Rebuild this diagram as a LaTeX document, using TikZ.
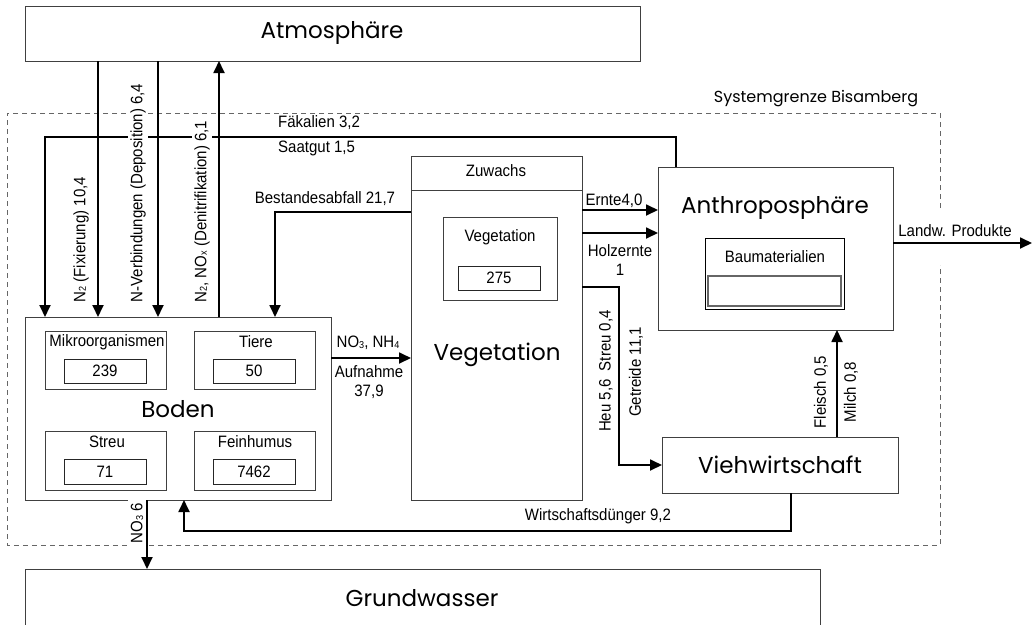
\documentclass[tikz,border=0pt]{standalone}
\usepackage{fontspec}
\usetikzlibrary{arrows.meta,fit}
\newfontfamily\cnd[FakeStretch=0.91]{Liberation Sans}
\newfontfamily\geo{Poppins}
\newcommand\lo[1]{\raisebox{-0.6pt}{\fontsize{10}{10}\selectfont #1}}
\begin{document}
\begin{tikzpicture}[x=1pt,y=-1pt,
 box/.style={draw=black!75,line width=1pt,inner sep=0pt,outer sep=0pt},
 valbox/.style={draw=black!85,line width=0.9pt,inner sep=0pt,outer sep=0pt},
 flow/.style={draw=black,line width=1.8pt,-{Triangle[length=12pt,width=11pt]}},
 flowline/.style={draw=black,line width=1.8pt},
 lbl/.style={font=\cnd\fontsize{16.5}{19.5}\selectfont,inner sep=1pt},
 rlbl/.style={lbl,rotate=90,fill=white,inner sep=2.5pt},
 big/.style={font=\geo\fontsize{23}{26}\selectfont,inner sep=0pt},
 bound/.style={draw=black!60,line width=0.9pt,dash pattern=on 5pt off 4pt}]
\useasboundingbox (0,0) rectangle (1032,624);

% system boundary
\draw[bound] (940,208) -- (940,113) -- (7,113) -- (7,545) -- (940,545) -- (940,265);
\node[font=\geo\fontsize{16}{18}\selectfont,inner sep=0pt] (sysl) at (816,99) {Systemgrenze Bisamberg};

% main boxes
\node[box,fit={(25,6)(640,61)}] (atm) {};
\node[big] (atml) at (332,33) {Atmosphäre};
\node[box,fit={(25,317)(331,500)}] (boden) {};
\node[big] (bodenl) at (178,409) {Boden};
\node[box,fit={(411,156)(582,500)}] (veg) {};
\draw[box] ([yshift=-34pt]veg.north west) -- ([yshift=-34pt]veg.north east);
\node[lbl] (zuw) at (496,171) {Zuwachs};
\node[box,fit={(443,217)(557,300)}] (vegin) {};
\node[lbl] (veginl) at (500,237) {Vegetation};
\node[valbox,fit={(458,266)(540,290)}] (vegval) {};
\node[lbl] at (vegval) {275};
\node[big] (vegl) at (497,355) {Vegetation};
\node[box,fit={(658,167)(893,330)}] (anthro) {};
\node[big] (anthrol) at (775,208) {Anthroposphäre};
\node[valbox,draw=black,fit={(705,238)(844,309)}] (bau) {};
\node[lbl] (baul) at (775,257) {Baumaterialien};
\node[valbox,draw=black!60,line width=1.3pt,fit={(708,276)(841,306)}] (bauval) {};
\node[box,fit={(662,437)(898,493)}] (vieh) {};
\node[big] (viehl) at (780,465) {Viehwirtschaft};
\node[box,fit={(25,569)(820,630)}] (gw) {};
\node[big] (gwl) at (422,598) {Grundwasser};

% soil compartments
\node[box,fit={(45,331)(166,389)}] (mikro) {};
\node[lbl] at (107,342) {Mikroorganismen};
\node[valbox,fit={(64,359)(146,383)}] (mikrov) {};
\node[lbl] at (mikrov) {239};
\node[box,fit={(194,331)(315,389)}] (tiere) {};
\node[lbl] at (256,342) {Tiere};
\node[valbox,fit={(213,359)(295,383)}] (tierev) {};
\node[lbl] at (tierev) {50};
\node[box,fit={(45,431)(166,490)}] (streu) {};
\node[lbl] at (107,442) {Streu};
\node[valbox,fit={(64,459)(146,484)}] (streuv) {};
\node[lbl] at (streuv) {71};
\node[box,fit={(194,431)(315,490)}] (fein) {};
\node[lbl] at (255,442) {Feinhumus};
\node[valbox,fit={(213,459)(295,484)}] (feinv) {};
\node[lbl] at (feinv) {7462};

% flows atmosphere <-> soil
\draw[flow] ([xshift=73pt]atm.south west) -- ([xshift=73pt]boden.north west);
\draw[flow] ([xshift=133pt]atm.south west) -- ([xshift=133pt]boden.north west);
\draw[flow] ([xshift=194pt]boden.north west) -- ([xshift=194pt]atm.south west);

% Faekalien / Saatgut
\draw[flow] ([xshift=18pt]anthro.north west) -- ++(0,-30) -| ([xshift=20pt]boden.north west);
\node[lbl,anchor=west] at (277,123) {Fäkalien 3,2};
\node[lbl,anchor=west] at (277,148) {Saatgut 1,5};

% Bestandesabfall
\draw[flow] ([yshift=-56pt]veg.north west) -| ([xshift=250pt]boden.north west);
\node[lbl] at (325,199) {Bestandesabfall 21,7};

% uptake
\draw[flow] ([yshift=-41pt]boden.north east) coordinate (up1) -- (up1 -| veg.west);
\node[lbl] at (368,343) {NO\lo{3}, NH\lo{4}};
\node[lbl,align=center] at (369,382) {Aufnahme\\37,9};

% harvest
\draw[flow] ([yshift=-54pt]veg.north east) coordinate (h1) -- (h1 -| anthro.west);
\node[lbl] at (614,201) {Ernte4,0};
\draw[flow] ([yshift=-77pt]veg.north east) coordinate (h2) -- (h2 -| anthro.west);
\node[lbl,align=center] at (620,260) {Holzernte\\1};

% products out
\coordinate (outp) at (1032,243);
\draw[flow] (anthro.east |- outp) -- (outp);
\node[lbl] at (955,231) {Landw. Produkte};

% fodder
\draw[flow] ([yshift=-131pt]veg.north east) -- ++(37,0) |- (vieh.west);
\node[rlbl] at (606,371) {Heu 5,6\enspace Streu 0,4};
\node[rlbl] at (636,372) {Getreide 11,1};

% meat / milk
\draw[flow] ([xshift=57pt]vieh.north) coordinate (m1) -- (m1 |- anthro.south);
\node[rlbl] at (821,392) {Fleisch 0,5};
\node[rlbl] at (851,392) {Milch 0,8};

% manure
\draw[flow] ([xshift=11pt]vieh.south) -- ++(0,38) -| ([xshift=159pt]boden.south west);
\node[lbl] at (598,516) {Wirtschaftsdünger 9,2};

% leaching
\draw[flow] ([xshift=122pt]boden.south west) -- ([xshift=122pt]gw.north west);
\node[rlbl] at (137,523) {NO\lo{3} 6};

% rotated atmosphere labels
\node[rlbl,anchor=west] at (81,305) {N\lo{2} (Fixierung) 10,4};
\node[rlbl,anchor=west] at (138,305) {N-Verbindungen (Deposition) 6,4};
\node[rlbl,anchor=west] at (202,305) {N\lo{2}, NO\lo{x} (Denitrifikation) 6,1};
\end{tikzpicture}
\end{document}
